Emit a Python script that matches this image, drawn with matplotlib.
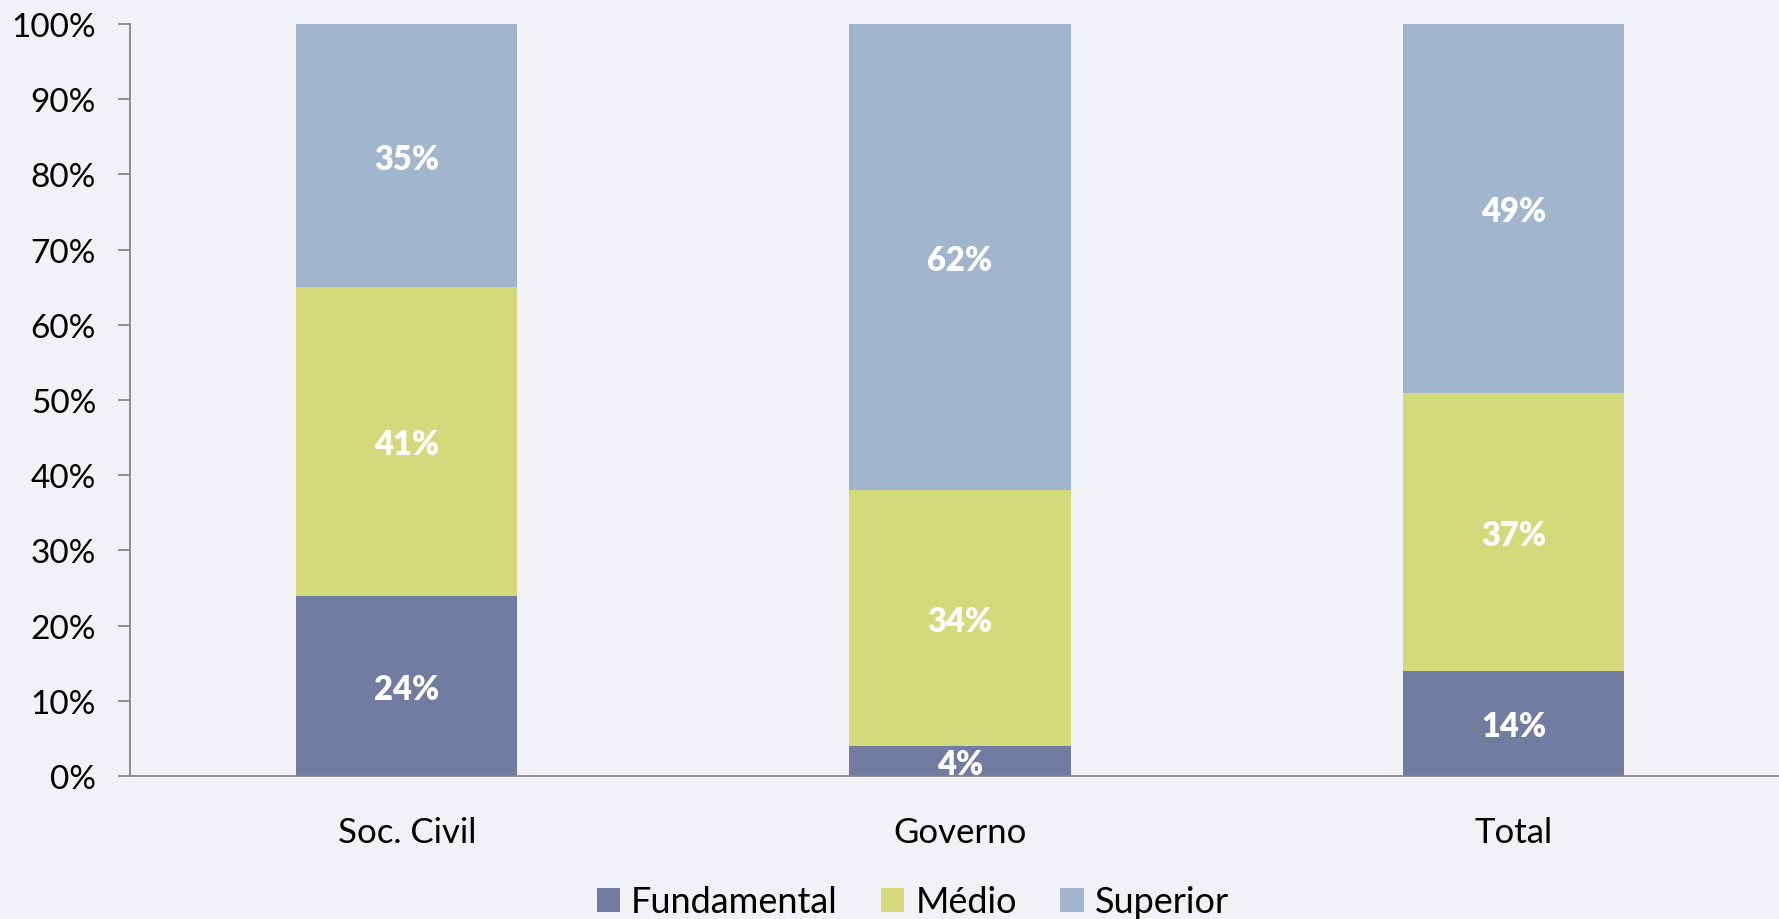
import matplotlib
matplotlib.use('Agg')
import matplotlib.pyplot as plt
from matplotlib.patches import Patch
import numpy as np

# Escolaridade por segmento (%)
categories = ['Soc. Civil', 'Governo', 'Total']
series = ['Fundamental', 'Médio', 'Superior']
fundamental = [24, 4, 14]
medio = [41, 34, 37]
superior = [35, 62, 49]
yticks = [0, 10, 20, 30, 40, 50, 60, 70, 80, 90, 100]

colors = {'Fundamental': '#727ba0', 'Médio': '#d4da7c', 'Superior': '#a1b6cd'}

plt.rcParams['font.family'] = ['Lato', 'DejaVu Sans']

fig = plt.figure(figsize=(17.79, 9.20), dpi=100, facecolor='#f1f2f6')
ax = fig.add_axes([0.0731, 0.1554, 0.9269, 0.8174])
ax.set_facecolor('none')

x = np.arange(len(categories))
width = 0.4
bottom = np.zeros(len(categories))

for name, vals in zip(series, [fundamental, medio, superior]):
    vals = np.array(vals, dtype=float)
    ax.bar(x, vals, width, bottom=bottom, color=colors[name], label=name,
           edgecolor='none', zorder=2)
    for xi, b, v in zip(x, bottom, vals):
        ax.text(xi, b + v / 2 - 0.4, f'{v:.0f}%', ha='center', va='center',
                color='white', fontsize=23.5, fontweight='heavy', zorder=3,
                clip_on=True)
    bottom += vals

ax.set_xlim(-0.5, 2.48)
ax.set_ylim(0, 100)
ax.set_yticks(yticks)
ax.set_yticklabels([f'{t}%' for t in yticks])
ax.set_xticks(x)
ax.set_xticklabels(categories)

for side in ['top', 'right']:
    ax.spines[side].set_visible(False)
for side in ['left', 'bottom']:
    ax.spines[side].set_color('#868686')
    ax.spines[side].set_linewidth(1.3)

ax.tick_params(axis='y', length=8.5, width=1.3, color='#868686',
               labelsize=24, pad=16)
ax.tick_params(axis='x', length=0, labelsize=25, pad=28.5)

handles = [Patch(facecolor=colors[s], edgecolor='none', label=s) for s in series]
fig.legend(handles=handles, loc='center', bbox_to_anchor=(0.513, 0.0185),
           ncol=3, frameon=False, fontsize=26, handlelength=0.65,
           handleheight=0.65, handletextpad=0.3, columnspacing=1.2)

plt.savefig('out.png', dpi=100, facecolor=fig.get_facecolor())
